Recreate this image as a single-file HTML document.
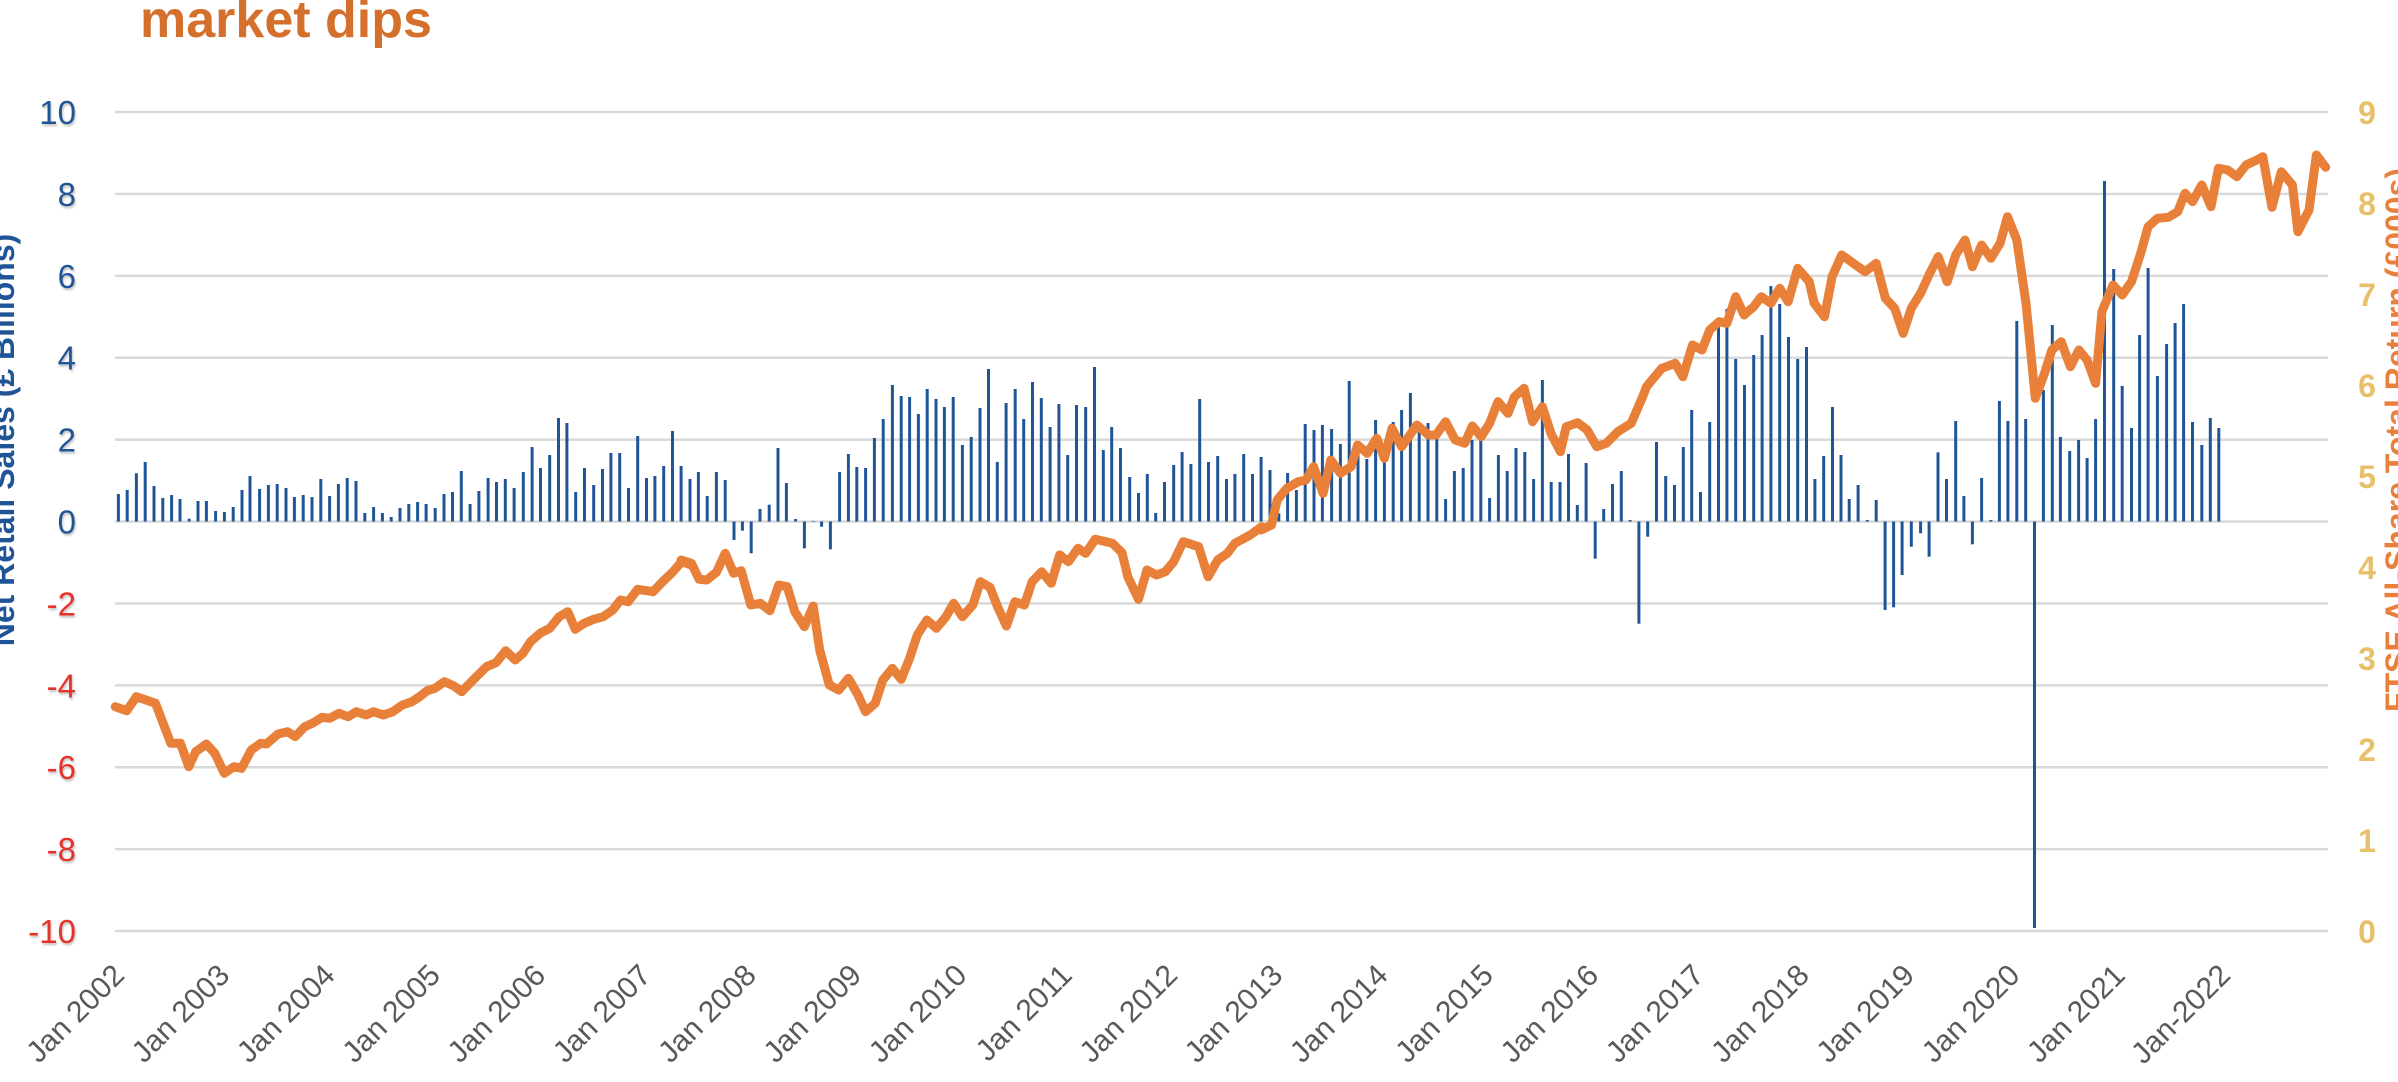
<!DOCTYPE html>
<html><head><meta charset="utf-8">
<style>
html,body{margin:0;padding:0;background:#fff;}
body{width:2398px;height:1082px;overflow:hidden;position:relative;font-family:"Liberation Sans",sans-serif;}
svg{position:absolute;left:0;top:0;}
</style></head>
<body>
<svg id="c" width="2398" height="1082" viewBox="0 0 2398 1082" xmlns="http://www.w3.org/2000/svg">
<text x="140" y="37" font-family="Liberation Sans, sans-serif" font-weight="bold" font-size="52" fill="#d4702c">market dips</text>
<g id="grid"></g>
<g id="bars" fill="#1f5597"></g>
<path id="line" fill="none" stroke="#e8803a" stroke-width="9" stroke-linejoin="round" stroke-linecap="round"/>
<g id="ylab" font-family="Liberation Sans, sans-serif" font-size="33" text-anchor="end"></g>
<g id="rlab" font-family="Liberation Sans, sans-serif" font-size="32" font-weight="bold" fill="#e8c06a" text-anchor="middle"></g>
<g id="xlab" font-family="Liberation Sans, sans-serif" font-size="30" fill="#595959" text-anchor="end"></g>
<text transform="translate(14,440) rotate(-90)" text-anchor="middle" font-family="Liberation Sans, sans-serif" font-weight="bold" font-size="32" fill="#1f5597">Net Retail Sales (£ Billions)</text>
<text transform="translate(2408,440) rotate(-90)" text-anchor="middle" font-family="Liberation Sans, sans-serif" font-weight="bold" font-size="32" fill="#e8803a">FTSE All-Share Total Return (£000s)</text>
</svg>
<script>
var NS="http://www.w3.org/2000/svg";
function el(t,a,p,txt){var e=document.createElementNS(NS,t);for(var k in a)e.setAttribute(k,a[k]);if(txt!=null)e.textContent=txt;p.appendChild(e);return e;}
var g=document.getElementById('grid'),yl=document.getElementById('ylab'),rl=document.getElementById('rlab'),xl=document.getElementById('xlab');
for(var i=0;i<11;i++){var y=112+i*81.9;
 el('rect',{x:115,y:y-1.2,width:2213,height:2.5,fill:'#d9d9d9'},g);
 var v=10-2*i;
 el('text',{x:76,y:y+12,fill:v<0?'#e8312a':'#1f5597',style:'text-shadow:1px 2px 2px rgba(0,0,0,0.25)'},yl,String(v));
}
for(var v=9;v>=0;v--){var y=112+(9-v)*91;el('text',{x:2367,y:y+12},rl,String(v));}
for(var i=0;i<21;i++){var lbl=i==20?'Jan-2022':'Jan '+(2002+i);
 var x=126+105.3*i;el('text',{x:x,y:977,transform:'rotate(-45 '+x+' 977)'},xl,lbl);}
var Z4=[[40,980],[70,992],[95,950],[145,970],[185,1090],[210,1090],[232,1160],[250,1115],[278,1092],[300,1120],[325,1180],[350,1160],[370,1165],[395,1110],[420,1090],[435,1092],[465,1062],[490,1055],[510,1070],[535,1040],[555,1030],[580,1012],[600,1015],[625,1000],[648,1010],[670,995],[695,1005],[715,995],[740,1005],[765,995],[790,975],[815,965],[835,950],[855,932],[875,925],[900,905],[925,918],[945,935],[975,900],[1010,860],[1035,848],[1060,812],[1085,840],[1105,820],[1125,785],[1150,760],[1175,745],[1200,710],[1222,695],[1242,748],[1265,730],[1290,718],[1315,710],[1340,690],[1360,660],[1380,665],[1405,628],[1445,635],[1470,605],[1495,578],[1520,545],[1545,555]];
var Z5=[[3,660],[30,670],[50,718],[70,720],[95,697],[118,640],[140,700],[160,692],[185,795],[210,790],[235,812],[258,735],[280,740],[300,815],[325,860],[348,798],[365,930],[390,1035],[415,1050],[440,1015],[465,1065],[485,1115],[510,1090],[530,1020],[555,985],[578,1018],[600,955],[620,885],[645,840],[670,865],[695,830],[715,790],[738,830],[765,795],[785,725],[810,742],[830,800],[853,858],[875,785],[900,795],[920,725],[945,695],[970,730],[992,645],[1015,665],[1040,625],[1060,640],[1085,598],[1130,610],[1155,638],[1170,710],[1198,778],[1220,690],[1245,705],[1268,695],[1290,665],[1315,605],[1355,620],[1380,710],[1405,660],[1430,640],[1450,610],[1490,585],[1520,560]];
var Z6=[[3,990],[30,975],[45,900],[70,865],[100,845],[120,840],[140,800],[165,880],[185,780],[210,820],[238,800],[255,735],[280,760],[305,715],[325,775],[345,685],[370,740],[410,675],[440,705],[460,705],[485,665],[510,720],[535,730],[555,678],[578,710],[600,670],[622,605],[648,640],[665,590],[690,565],[712,665],[738,620],[760,700],[785,755],[800,680],[830,668],[855,690],[880,740],[905,730],[935,695],[970,670],[1000,590],[1010,560],[1050,505],[1085,490],[1105,530],[1130,435],[1155,450],[1175,390],[1200,365],[1220,370],[1243,290],[1265,345],[1290,320],[1310,290],[1335,310],[1358,265],[1380,305],[1405,205],[1435,245],[1448,310],[1475,350],[1495,230],[1520,165]];
var Z7=[[230,425],[260,400],[285,505],[310,535],[333,610],[355,535],[380,490],[405,430],[428,380],[452,455],[475,375],[500,330],[520,410],[545,345],[570,385],[595,340],[615,260],[640,330],[665,520],[690,805],[715,730],[735,660],[760,635],[785,710],[808,660],[830,690],[853,760],[870,545],[900,465],[925,495],[950,455],[975,370],[995,290],[1020,265],[1050,262],[1075,245],[1095,190],[1115,215],[1140,165],[1165,230],[1185,115],[1210,120],[1235,140],[1260,105],[1285,92],[1305,80],[1330,232],[1355,125],[1385,165],[1400,305],[1430,240],[1450,75],[1475,112]];
var pts=[];
function add(arr,ox,oy,sx){arr.forEach(function(p){pts.push([ox+p[0]/sx,oy+p[1]/3]);});}
add(Z4,100,380,2.613);add(Z5,680,340,2.613);add(Z6,1260,200,2.613);add(Z7,1780,130,2.703);
document.getElementById('line').setAttribute('d','M'+pts.map(function(p){return p[0].toFixed(1)+','+p[1].toFixed(1);}).join('L'));
var B4=[[48,342],[71,330],[95,280],[118,246],[141,318],[164,354],[187,345],[209,357],[233,416],[256,363],[278,363],[302,393],[325,396],[348,381],[371,330],[392,288],[417,327],[440,315],[463,312],[486,324],[508,351],[531,345],[554,351],[577,297],[600,348],[623,312],[646,294],[669,303],[692,399],[715,381],[738,399],[761,411],[784,384],[807,372],[830,366],[852,372],[876,384],[899,342],[921,336],[944,273],[967,372],[990,333],[1014,294],[1036,306],[1059,297],[1082,324],[1106,276],[1129,201],[1151,264],[1175,225],[1198,114],[1220,129],[1243,336],[1266,264],[1290,315],[1313,267],[1335,219],[1358,219],[1381,324],[1405,168],[1428,294],[1450,288],[1473,258],[1496,153]];
var B5=[[3,378],[26,417],[48,396],[71,468],[95,396],[118,420],[141,600],[163,572],[186,640],[209,507],[233,494],[256,324],[278,429],[302,537],[325,625],[348,543],[370,560],[393,628],[417,396],[440,342],[462,381],[485,384],[508,294],[531,237],[555,135],[578,168],[600,171],[623,222],[646,147],[669,177],[691,201],[714,171],[738,315],[761,291],[784,204],[806,87],[829,366],[852,189],[876,147],[898,237],[921,126],[944,174],[967,261],[990,192],[1013,345],[1036,195],[1060,201],[1083,81],[1106,330],[1128,261],[1151,324],[1175,411],[1198,459],[1221,402],[1243,519],[1266,426],[1290,375],[1312,336],[1335,372],[1358,177],[1381,366],[1405,348],[1428,417],[1450,402],[1473,342],[1496,402]];
var B6=[[3,771],[26,810],[49,940],[72,819],[95,870],[118,672],[141,690],[163,675],[187,687],[210,732],[233,543],[256,760],[279,777],[302,660],[325,780],[348,666],[370,630],[393,579],[416,690],[439,669],[462,715],[485,897],[508,813],[531,804],[554,720],[577,712],[600,894],[623,765],[646,813],[669,744],[692,756],[715,837],[738,540],[761,846],[784,846],[806,762],[829,915],[852,789],[876,1076],[898,927],[921,852],[944,813],[967,960],[990,1271],[1013,1010],[1036,726],[1060,828],[1083,855],[1106,741],[1128,630],[1151,876],[1175,666],[1198,363],[1220,327],[1243,477],[1266,555],[1290,465],[1312,405],[1335,258],[1358,312],[1381,411],[1405,477],[1428,441],[1450,837],[1473,768],[1496,621]];
var B7=[[165,975],[187,1107],[211,1065],[236,1170],[260,1110],[284,1440],[307,1432],[330,1335],[355,1250],[380,1210],[403,1280],[427,967],[450,1047],[475,873],[497,1098],[520,1243],[545,1044],[570,1170],[593,813],[616,873],[640,573],[664,867],[688,2394],[712,780],[736,585],[758,921],[783,963],[807,930],[830,984],[853,867],[877,153],[902,417],[925,768],[950,894],[972,615],[995,414],[1020,738],[1045,642],[1068,579],[1091,522],[1115,876],[1140,945],[1163,864],[1186,894]];
var bg=document.getElementById('bars'),Y0=521.5;
function addB(arr,ox,oy,sx){arr.forEach(function(b){var x=ox+b[0]/sx,y=oy+b[1]/3;var t=Math.min(y,Y0),h=Math.abs(y-Y0);if(h<0.6)h=0.6;el('rect',{x:(x-1.5).toFixed(1),y:t.toFixed(1),width:3,height:h.toFixed(1)},bg);});}
addB(B4,100,380,2.613);addB(B5,680,340,2.613);addB(B6,1260,200,2.613);addB(B7,1780,130,2.703);
</script>
</body></html>
